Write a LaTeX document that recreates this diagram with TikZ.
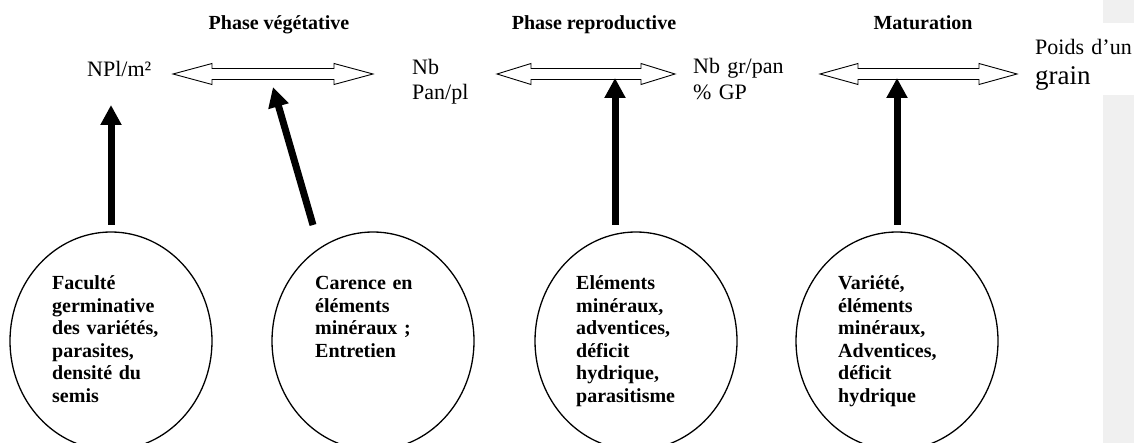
\documentclass[tikz,border=0pt]{standalone}
\usepackage{fontspec}
\setmainfont{Liberation Serif}
\usetikzlibrary{shapes.geometric,arrows.meta,calc}
\definecolor{stripgray}{HTML}{F0F0F0}
\begin{document}
\begin{tikzpicture}[x=1pt,y=-1pt,
  title/.style={font=\bfseries\fontsize{20}{24}\selectfont, anchor=base, inner sep=0},
  lab/.style={font=\fontsize{22}{25}\selectfont, anchor=base west, inner sep=0, text width=#1, align=left},
  factor/.style={font=\bfseries\fontsize{20}{22.4}\selectfont, anchor=base west, inner sep=0, text width=150pt, align=left},
  bubble/.style={ellipse, draw, line width=1.3pt, minimum width=202pt, minimum height=218pt, inner sep=0},
  push/.style={line width=7pt, -{Triangle[length=20pt,width=20pt]}},
  hollowline/.style={line width=0.9pt, line join=miter},
  hollow/.style={to path={-- ++(#1,10.5) -- ++(0,-5) -- ($(\tikztotarget)+(-#1,5.5)$) -- ++(0,5) -- (\tikztotarget) -- ++(-#1,-10.5) -- ++(0,5) -- ($(\tikztostart)+(#1,-5.5)$) -- ++(0,-5) -- cycle}},
  hollow/.default=38]
\useasboundingbox (0,0) rectangle (1134,443);
% grey strip on the right
\fill[stripgray] (1103,0) rectangle (1134,23);
\fill[stripgray] (1103,95) rectangle (1134,443);

% titles
\node[title] (t1) at (279,30) {Phase végétative};
\node[title] (t2) at (594,30) {Phase reproductive};
\node[title] (t3) at (923,30) {Maturation};

% labels
\node[lab=90pt] (l1) at (87,77) {NPl/m²};
\node[lab=80pt] (l2) at (412,75) {Nb\\Pan/pl};
\node[lab=120pt, font=\fontsize{22}{26}\selectfont] (l3) at (693,74) {Nb gr/pan\\\% GP};
\node[lab=110pt, font=\fontsize{22}{30}\selectfont] (l4) at (1035,55) {Poids d’un\\{\fontsize{27}{30}\selectfont grain}};

% hollow double arrows
\coordinate (a1l) at (173,74); \coordinate (a1r) at (373,74);
\coordinate (a2l) at (497,74); \coordinate (a2r) at (675,74);
\coordinate (a3l) at (820,74); \coordinate (a3r) at (1017,74);
\draw[hollowline] (a1l) to[hollow=39] (a1r);
\draw[hollowline] (a2l) to[hollow=34] (a2r);
\draw[hollowline] (a3l) to[hollow=38] (a3r);

% ellipses
\node[bubble] (c1) at (111,341) {};
\node[bubble] (c2) at (373,341) {};
\node[bubble] (c3) at (636,341) {};
\node[bubble] (c4) at (897,341) {};

\node[factor] (x1) at ($(c1.center)+(-59,-51)$) {Faculté\\germinative\\des variétés,\\parasites,\\densité du\\semis};
\node[factor] (x2) at ($(c2.center)+(-58,-51)$) {Carence en\\éléments\\minéraux ;\\Entretien};
\node[factor] (x3) at ($(c3.center)+(-60,-51)$) {Eléments\\minéraux,\\adventices,\\déficit\\hydrique,\\parasitisme};
\node[factor] (x4) at ($(c4.center)+(-59,-51)$) {Variété,\\éléments\\minéraux,\\Adventices,\\déficit\\hydrique};

% black arrows
\coordinate (sA) at (111,225); \coordinate (eA) at (111,105);
\coordinate (sB) at (313,225); \coordinate (eB) at (273,87);
\coordinate (sC) at (615,225); \coordinate (eC) at (615,78);
\coordinate (sD) at (897,225); \coordinate (eD) at (897,78);
\draw[push] (sA) -- (eA);
\draw[push] (sB) -- (eB);
\draw[push] (sC) -- (eC);
\draw[push] (sD) -- (eD);
\end{tikzpicture}
\end{document}
